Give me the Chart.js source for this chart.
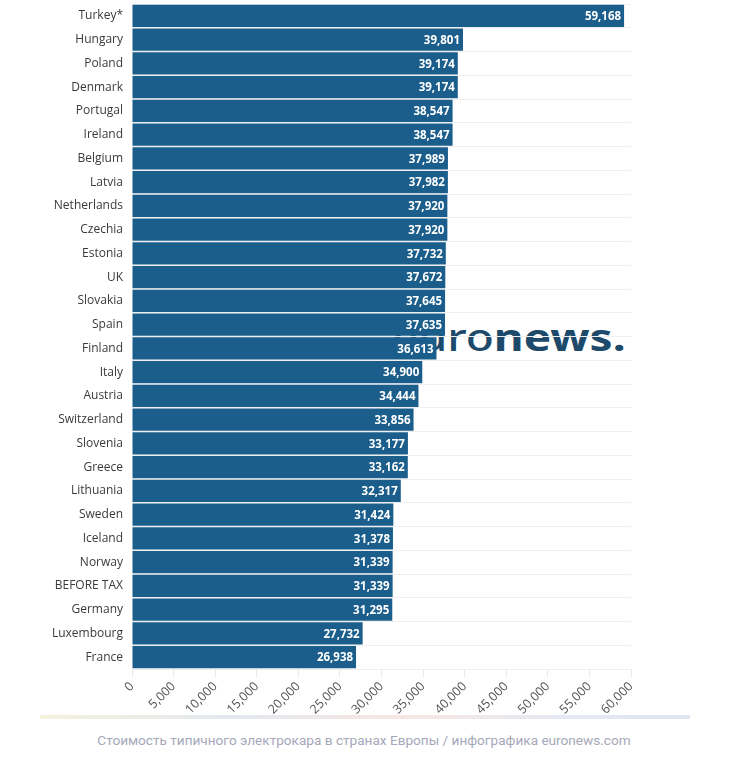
<!DOCTYPE html>
<html>
<head>
<meta charset="utf-8">
<script src="https://cdn.jsdelivr.net/npm/chart.js@4"></script>
<style>
  html, body { margin: 0; padding: 0; background: #fff; }
  #wrap { position: relative; width: 734px; height: 757px; }
  #myChart { position: absolute; left: 0; top: 0; z-index: 2; }
  #logo {
    position: absolute; left: 392px; top: 311px; z-index: 1;
    font-family: 'Noto Sans', sans-serif; font-size: 38px; color: #1d4a6b;
    line-height: 50px; transform: scaleX(1.21); transform-origin: left top;
    white-space: nowrap;
  }
  #logo .a { font-weight: 500; }
  #logo .b { font-weight: 700; }
  #rule {
    position: absolute; left: 40px; top: 715px; width: 650px; height: 4px;
    background: linear-gradient(to right, #f4f2dc, #e3e8f0 30%, #f7e6e2 55%, #e6e9f2 80%, #dde5ee);
  }
  #caption {
    position: absolute; left: 0; top: 732px; width: 728px; text-align: center;
    font-family: Roboto, sans-serif; font-size: 13.6px; color: #a5a8ba;
  }
</style>
</head>
<body>
<div id="wrap">
  <div id="logo"><span class="a">euro</span><span class="b">news.</span></div>
  <canvas id="myChart" width="734" height="757"></canvas>
  <div id="rule"></div>
  <div id="caption">Стоимость типичного электрокара в странах Европы / инфографика euronews.com</div>
</div>
<script>
const COUNTRIES = ['Turkey*', 'Hungary', 'Poland', 'Denmark', 'Portugal', 'Ireland', 'Belgium', 'Latvia',
  'Netherlands', 'Czechia', 'Estonia', 'UK', 'Slovakia', 'Spain', 'Finland', 'Italy', 'Austria',
  'Switzerland', 'Slovenia', 'Greece', 'Lithuania', 'Sweden', 'Iceland', 'Norway', 'BEFORE TAX',
  'Germany', 'Luxembourg', 'France'];
const PRICES = [59168, 39801, 39174, 39174, 38547, 38547, 37989, 37982, 37920, 37920, 37732, 37672,
  37645, 37635, 36613, 34900, 34444, 33856, 33177, 33162, 32317, 31424, 31378, 31339, 31339,
  31295, 27732, 26938];
const X_MAX = 60000;
const X_STEP = 5000;

const BAR_COLOR = '#1b5e8b';

// white value labels at the end of each bar
const VALUE_LABELS = {
  id: 'valueLabels',
  afterDatasetsDraw(chart) {
    const { ctx } = chart;
    const meta = chart.getDatasetMeta(0);
    ctx.save();
    ctx.font = 'bold 11.5px "Open Sans", sans-serif';
    ctx.fillStyle = '#ffffff';
    ctx.textAlign = 'right';
    ctx.textBaseline = 'middle';
    meta.data.forEach((bar, i) => {
      ctx.fillText(PRICES[i].toLocaleString('en-US'), bar.x - 3, bar.y + 1);
    });
    ctx.restore();
  }
};

const CONFIG = {
  type: 'bar',
  data: {
    labels: COUNTRIES,
    datasets: [{
      data: PRICES,
      backgroundColor: BAR_COLOR,
      barPercentage: 0.93,
      categoryPercentage: 1
    }]
  },
  options: {
    indexAxis: 'y',
    responsive: false,
    animation: false,
    layout: { padding: { top: 4, right: 103, left: 0, bottom: 0 } },
    plugins: {
      legend: { display: false },
      tooltip: { enabled: false }
    },
    scales: {
      y: {
        afterFit(scale) {
          scale.width = 132;
          scale.paddingTop = 0;
          scale.paddingBottom = 0;
        },
        border: { display: false },
        grid: { color: '#efefef', drawTicks: false, offset: true },
        ticks: {
          padding: 9,
          color: '#3a3a3a',
          font: { family: '"Open Sans", sans-serif', size: 12 }
        }
      },
      x: {
        min: 0,
        max: X_MAX,
        afterFit(scale) {
          scale.height = 757 - 669;
          scale.paddingLeft = 0;
          scale.paddingRight = 0;
        },
        border: { display: false },
        grid: { drawOnChartArea: false, drawTicks: true, tickLength: 8, color: '#e8e8e8' },
        ticks: {
          stepSize: X_STEP,
          minRotation: 45,
          maxRotation: 45,
          padding: 2,
          color: '#555',
          font: { family: '"Open Sans", sans-serif', size: 12.5 },
          callback: v => v.toLocaleString('en-US')
        }
      }
    }
  },
  plugins: [VALUE_LABELS]
};

const MY_CHART = new Chart(document.getElementById('myChart'), CONFIG);
</script>
</body>
</html>
